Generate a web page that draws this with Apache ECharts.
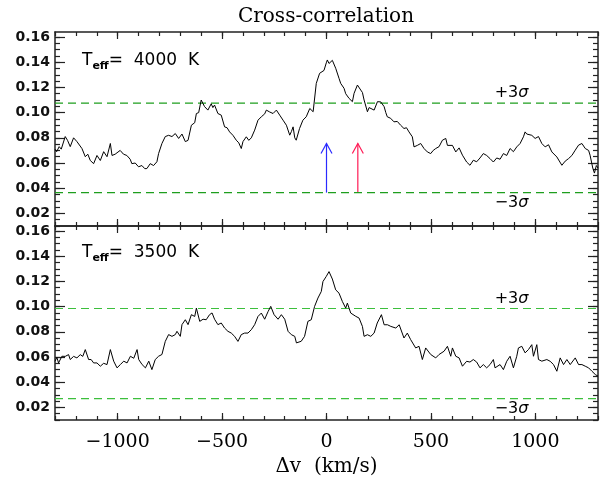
<!DOCTYPE html>
<html>
<head>
<meta charset="utf-8">
<script src="https://cdn.jsdelivr.net/npm/echarts@6/dist/echarts.min.js"></script>
<style>
  html, body { margin: 0; padding: 0; background: #fff; }
  #chart { width: 602px; height: 481px; }
</style>
</head>
<body>
<div id="chart"></div>
<script>
// velocity shift (km/s) and cross-correlation values, T_eff = 4000 K
const vTop = [-1300, -1292, -1280, -1270, -1251, -1240, -1227, -1211, -1195, -1187, -1171, -1155, -1143, -1131, -1115, -1099, -1083, -1067, -1051, -1035, -1027, -1012, -988, -972, -956, -940, -932, -916, -900, -884, -870, -860, -844, -828, -812, -804, -788, -772, -756, -740, -724, -708, -692, -676, -663, -647, -631, -623, -612, -600, -584, -576, -568, -552, -544, -536, -520, -504, -496, -488, -476, -464, -448, -432, -420, -408, -400, -384, -372, -360, -344, -328, -312, -296, -288, -272, -256, -240, -224, -208, -192, -176, -168, -160, -152, -145, -129, -113, -97, -80, -64, -49, -33, -24, -12, -1, 4, 12, 20, 28, 44, 60, 68, 84, 92, 100, 108, 124, 132, 148, 164, 172, 180, 196, 204, 212, 228, 244, 260, 276, 284, 291, 307, 323, 339, 355, 371, 383, 395, 411, 419, 435, 451, 467, 483, 499, 511, 523, 539, 555, 571, 579, 587, 603, 619, 635, 651, 671, 687, 703, 719, 735, 751, 767, 783, 799, 815, 831, 847, 863, 879, 895, 911, 927, 943, 951, 959, 967, 983, 999, 1015, 1031, 1047, 1063, 1079, 1103, 1127, 1143, 1159, 1175, 1191, 1207, 1223, 1239, 1255, 1262, 1275, 1283, 1292, 1300];
const ccTop = [0.071, 0.069, 0.073, 0.071, 0.081, 0.078, 0.073, 0.080, 0.077, 0.0755, 0.0715, 0.065, 0.067, 0.062, 0.0595, 0.066, 0.062, 0.069, 0.065, 0.0755, 0.066, 0.067, 0.070, 0.067, 0.066, 0.063, 0.0595, 0.060, 0.057, 0.058, 0.0555, 0.0556, 0.0595, 0.058, 0.061, 0.0675, 0.0755, 0.081, 0.082, 0.081, 0.0834, 0.0795, 0.083, 0.077, 0.078, 0.090, 0.092, 0.0993, 0.100, 0.110, 0.1048, 0.106, 0.102, 0.107, 0.104, 0.106, 0.0993, 0.098, 0.0967, 0.0887, 0.088, 0.0847, 0.082, 0.0781, 0.076, 0.0715, 0.077, 0.0808, 0.078, 0.080, 0.0861, 0.094, 0.0967, 0.099, 0.102, 0.1005, 0.0993, 0.102, 0.098, 0.094, 0.090, 0.0821, 0.085, 0.0887, 0.080, 0.0781, 0.0874, 0.094, 0.0967, 0.1033, 0.1007, 0.1232, 0.1312, 0.130, 0.1335, 0.1395, 0.1418, 0.139, 0.1405, 0.1415, 0.1352, 0.1272, 0.1232, 0.1193, 0.115, 0.116, 0.1113, 0.1087, 0.1153, 0.1219, 0.1179, 0.116, 0.110, 0.1007, 0.104, 0.1033, 0.102, 0.1087, 0.1085, 0.1047, 0.100, 0.0967, 0.0955, 0.0927, 0.093, 0.090, 0.0874, 0.088, 0.0847, 0.0808, 0.0728, 0.074, 0.0755, 0.0715, 0.0688, 0.0675, 0.070, 0.0715, 0.073, 0.0781, 0.0795, 0.074, 0.0728, 0.074, 0.0688, 0.072, 0.0662, 0.0608, 0.0582, 0.0622, 0.061, 0.064, 0.0675, 0.066, 0.0635, 0.0608, 0.064, 0.063, 0.0675, 0.066, 0.0715, 0.069, 0.0728, 0.0755, 0.0808, 0.0847, 0.083, 0.0821, 0.082, 0.0795, 0.081, 0.0755, 0.0728, 0.0745, 0.0688, 0.0648, 0.0582, 0.0615, 0.0635, 0.066, 0.0702, 0.0742, 0.0755, 0.0715, 0.070, 0.0662, 0.056, 0.052, 0.058, 0.056];

// T_eff = 3500 K
const vBot = [-1300, -1291, -1283, -1267, -1251, -1235, -1227, -1211, -1195, -1179, -1167, -1155, -1139, -1127, -1115, -1099, -1083, -1067, -1051, -1035, -1019, -1003, -987, -971, -955, -939, -923, -907, -899, -883, -867, -851, -836, -820, -804, -788, -772, -756, -740, -724, -716, -700, -692, -676, -663, -647, -631, -623, -607, -591, -576, -560, -548, -536, -520, -504, -488, -472, -456, -440, -424, -408, -392, -376, -360, -344, -328, -312, -296, -280, -267, -251, -232, -216, -200, -184, -168, -152, -144, -121, -105, -89, -73, -57, -41, -25, -17, -1, 12, 28, 44, 60, 76, 92, 100, 116, 140, 156, 172, 180, 196, 212, 228, 243, 263, 276, 292, 308, 332, 348, 371, 387, 403, 427, 443, 459, 475, 499, 523, 539, 563, 579, 595, 603, 619, 635, 651, 671, 687, 703, 719, 735, 751, 767, 783, 799, 807, 831, 847, 863, 879, 895, 911, 919, 935, 951, 967, 983, 991, 1007, 1015, 1031, 1055, 1071, 1087, 1103, 1119, 1135, 1151, 1167, 1191, 1207, 1223, 1239, 1255, 1271, 1287, 1300];
const ccBot = [0.0566, 0.0597, 0.0553, 0.0606, 0.0605, 0.0619, 0.058, 0.0605, 0.0593, 0.0619, 0.0605, 0.0659, 0.058, 0.058, 0.0553, 0.0553, 0.0527, 0.055, 0.054, 0.0659, 0.0567, 0.0514, 0.054, 0.0567, 0.0553, 0.0606, 0.059, 0.0659, 0.058, 0.054, 0.0514, 0.0567, 0.050, 0.058, 0.0606, 0.062, 0.0724, 0.0778, 0.0764, 0.0778, 0.0804, 0.0764, 0.0857, 0.0896, 0.0857, 0.0936, 0.0922, 0.0988, 0.0883, 0.090, 0.0896, 0.0936, 0.095, 0.090, 0.0857, 0.087, 0.083, 0.0804, 0.079, 0.0764, 0.0724, 0.0778, 0.079, 0.079, 0.0817, 0.0857, 0.0922, 0.0949, 0.090, 0.096, 0.1002, 0.0936, 0.090, 0.0936, 0.090, 0.0804, 0.0777, 0.0764, 0.0712, 0.0725, 0.0764, 0.0883, 0.0896, 0.1002, 0.1068, 0.112, 0.1199, 0.124, 0.1278, 0.1219, 0.1133, 0.1107, 0.1041, 0.0988, 0.1028, 0.0949, 0.0923, 0.0909, 0.0843, 0.0764, 0.0777, 0.0764, 0.079, 0.087, 0.0936, 0.0856, 0.0856, 0.0843, 0.083, 0.0856, 0.0751, 0.079, 0.0738, 0.0672, 0.0685, 0.058, 0.0672, 0.062, 0.0593, 0.062, 0.0646, 0.0685, 0.0606, 0.0672, 0.0606, 0.0593, 0.0527, 0.0566, 0.056, 0.058, 0.056, 0.0514, 0.054, 0.0514, 0.054, 0.058, 0.0514, 0.054, 0.050, 0.0566, 0.0606, 0.0514, 0.0606, 0.0672, 0.0685, 0.0633, 0.0659, 0.0698, 0.0606, 0.0698, 0.058, 0.0567, 0.058, 0.0566, 0.054, 0.0487, 0.0593, 0.054, 0.058, 0.054, 0.0593, 0.054, 0.054, 0.0527, 0.0514, 0.0487, 0.0461, 0.0448];

// +/-3 sigma levels per panel
const sigmaHi = [0.1075, 0.0985];
const sigmaLo = [0.0365, 0.027];
const panelLabels = ['4000', '3500'];

// arrows in the top panel
const arrowV = [0, 150];
const arrowFrom = [0.0365, 0.0365];
const arrowTo = [0.0755, 0.0755];
const arrowColors = ['#2a2aff', '#ff1a55'];

// ticks
const xMajor = [-1000, -500, 0, 500, 1000];
const xMinor = [];
for (let v = -1300; v <= 1300; v += 100) xMinor.push(v);
const yMajor = [0.02, 0.04, 0.06, 0.08, 0.10, 0.12, 0.14, 0.16];
const yMinor = [];
for (let i = 2; i <= 32; i++) yMinor.push(+(i * 0.005).toFixed(3));

const X_MIN = -1300;
const X_MAX = 1300;

const chart = echarts.init(document.getElementById('chart'));

const frame = { onZero: false, lineStyle: { color: '#222', width: 1.5 } };
const serif = 'DejaVu Serif';
const sans = 'DejaVu Sans';

function xAxes(g) {
  const base = { gridIndex: g, type: 'value', min: X_MIN, max: X_MAX, splitLine: { show: false } };
  const fmt = (v) => (v < 0 ? '\u2212' + Math.abs(v) : String(v));
  return [
    Object.assign({}, base, {
      position: 'bottom',
      axisLine: frame,
      axisTick: { inside: true, length: 7, customValues: xMajor, lineStyle: { color: '#222', width: 1.2 } },
      axisLabel: g === 1
        ? { show: true, customValues: xMajor, formatter: fmt, fontFamily: serif, fontSize: 19, color: '#000', margin: 13 }
        : { show: false },
      name: g === 1 ? '\u0394v  (km/s)' : '',
      nameLocation: 'middle',
      nameGap: 37,
      nameTextStyle: { fontFamily: serif, fontSize: 20, color: '#000' }
    }),
    Object.assign({}, base, {
      position: 'bottom',
      axisLine: { show: false, onZero: false },
      axisTick: { inside: true, length: 4, customValues: xMinor, lineStyle: { color: '#222', width: 1.2 } },
      axisLabel: { show: false }
    }),
    Object.assign({}, base, {
      position: 'top',
      axisLine: frame,
      axisTick: { inside: true, length: 7, customValues: xMajor, lineStyle: { color: '#222', width: 1.2 } },
      axisLabel: { show: false }
    }),
    Object.assign({}, base, {
      position: 'top',
      axisLine: { show: false, onZero: false },
      axisTick: { inside: true, length: 4, customValues: xMinor, lineStyle: { color: '#222', width: 1.2 } },
      axisLabel: { show: false }
    })
  ];
}

function yAxes(g) {
  const base = { gridIndex: g, type: 'value', min: 0.01, max: 0.164, splitLine: { show: false } };
  return [
    Object.assign({}, base, {
      position: 'left',
      axisLine: frame,
      axisTick: { inside: true, length: 10, customValues: yMajor, lineStyle: { color: '#222', width: 1.2 } },
      axisLabel: { show: true, customValues: yMajor, formatter: (v) => v.toFixed(2), fontFamily: sans, fontWeight: 'bold', fontSize: 14, color: '#111', margin: 5 }
    }),
    Object.assign({}, base, {
      position: 'left',
      axisLine: { show: false, onZero: false },
      axisTick: { inside: true, length: 5, customValues: yMinor, lineStyle: { color: '#222', width: 1.2 } },
      axisLabel: { show: false }
    }),
    Object.assign({}, base, {
      position: 'right',
      axisLine: frame,
      axisTick: { inside: true, length: 10, customValues: yMajor, lineStyle: { color: '#222', width: 1.2 } },
      axisLabel: { show: false }
    }),
    Object.assign({}, base, {
      position: 'right',
      axisLine: { show: false, onZero: false },
      axisTick: { inside: true, length: 5, customValues: yMinor, lineStyle: { color: '#222', width: 1.2 } },
      axisLabel: { show: false }
    })
  ];
}

const sigmaColors = ['#1e9e1e', '#3cbf3c'];
const sigmaLabelV = 886;

function curveSeries(g, vs, cc) {
  return {
    type: 'line',
    xAxisIndex: g * 4,
    yAxisIndex: g * 4,
    data: vs.map((v, i) => [v, cc[i]]),
    symbol: 'none',
    lineStyle: { color: '#000', width: 1 },
    silent: true,
    z: 3
  };
}

// one dashed horizontal line per sigma level, with its label
function sigmaSeries(g, level, text, dy) {
  return {
    type: 'line',
    xAxisIndex: g * 4,
    yAxisIndex: g * 4,
    data: [[X_MIN, level], [X_MAX, level]],
    symbol: 'none',
    silent: true,
    z: 2,
    color: sigmaColors[g],
    lineStyle: { color: sigmaColors[g], type: [8, 5], width: 1.2 },
    markPoint: {
      silent: true,
      symbol: 'circle',
      symbolSize: 1,
      itemStyle: { color: 'rgba(0,0,0,0)' },
      label: {
        show: true,
        position: 'inside',
        color: '#000',
        fontFamily: sans,
        fontSize: 16,
        offset: [0, dy],
        formatter: text,
        rich: { i: { fontFamily: sans, fontSize: 16, fontStyle: 'italic', color: '#000' } }
      },
      data: [{ coord: [sigmaLabelV, level] }]
    }
  };
}

const arrowSeries = {
  type: 'custom',
  xAxisIndex: 0,
  yAxisIndex: 0,
  silent: true,
  data: arrowV.map((v, i) => [v, arrowFrom[i], arrowTo[i], i]),
  renderItem: (params, api) => {
    const p0 = api.coord([api.value(0), api.value(1)]);
    const p1 = api.coord([api.value(0), api.value(2)]);
    const c = arrowColors[api.value(3)];
    return {
      type: 'group',
      children: [
        { type: 'line', shape: { x1: p0[0], y1: p0[1], x2: p1[0], y2: p1[1] }, style: { stroke: c, lineWidth: 1.2 } },
        {
          type: 'polyline',
          shape: { points: [[p1[0] - 5.5, p1[1] + 10], [p1[0], p1[1]], [p1[0] + 5.5, p1[1] + 10]] },
          style: { stroke: c, fill: null, lineWidth: 1.2 }
        }
      ]
    };
  }
};

function teffLabel(g, y) {
  return {
    type: 'text',
    x: 82,
    y: y,
    style: {
      text: '{t|T}{s|eff}{t|=  ' + panelLabels[g] + '  K}',
      verticalAlign: 'middle',
      rich: {
        t: { fontFamily: sans, fontSize: 17, fill: '#000', lineHeight: 22 },
        s: { fontFamily: sans, fontSize: 11, fontWeight: 'bold', fill: '#000', lineHeight: 11, verticalAlign: 'bottom' }
      }
    }
  };
}

chart.setOption({
  animation: false,
  backgroundColor: '#fff',
  grid: [
    { left: 55, top: 32, width: 543, height: 194 },
    { left: 55, top: 226, width: 543, height: 194 }
  ],
  xAxis: xAxes(0).concat(xAxes(1)),
  yAxis: yAxes(0).concat(yAxes(1)),
  graphic: [
    {
      type: 'text',
      x: 326,
      y: 17,
      style: { text: 'Cross-correlation', fontFamily: serif, fontSize: 20, fill: '#000', align: 'center', verticalAlign: 'middle' }
    },
    teffLabel(0, 61),
    teffLabel(1, 253)
  ],
  series: [
    sigmaSeries(0, sigmaHi[0], '+3{i|\u03c3}', -10),
    sigmaSeries(0, sigmaLo[0], '\u22123{i|\u03c3}', 10),
    sigmaSeries(1, sigmaHi[1], '+3{i|\u03c3}', -10),
    sigmaSeries(1, sigmaLo[1], '\u22123{i|\u03c3}', 10),
    curveSeries(0, vTop, ccTop),
    curveSeries(1, vBot, ccBot),
    arrowSeries
  ]
});
</script>
</body>
</html>
